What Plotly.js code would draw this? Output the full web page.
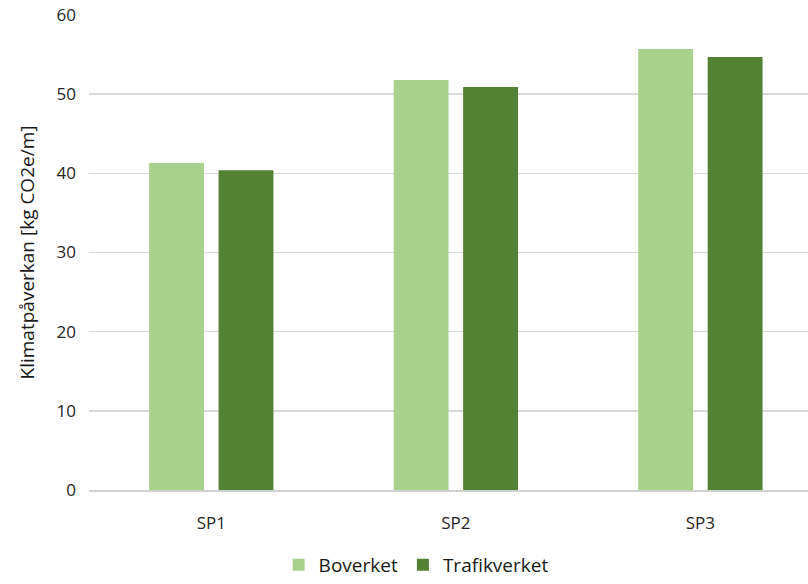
<!DOCTYPE html>
<html>
<head>
<meta charset="utf-8">
<script src="https://cdn.plot.ly/plotly-3.0.1.min.js"></script>
<style>
  html, body { margin: 0; padding: 0; background: #ffffff; }
  #chart { width: 808px; height: 584px; }
</style>
</head>
<body>
<div id="chart"></div>
<script>
// Climate impact per metre for three cross-sections, two calculation methods
const categories = ['SP1', 'SP2', 'SP3'];
const boverket = [41.3, 51.8, 55.7];
const trafikverket = [40.4, 50.9, 54.7];
const yTicks = [0, 10, 20, 30, 40, 50, 60];

const font = 'Open Sans, Liberation Sans, sans-serif';

const traces = [
  {
    type: 'bar', name: 'Boverket', x: categories, y: boverket,
    marker: { color: '#a9d18e' }, hoverinfo: 'x+y+name'
  },
  {
    type: 'bar', name: 'Trafikverket', x: categories, y: trafikverket,
    marker: { color: '#548235' }, hoverinfo: 'x+y+name'
  }
];

const layout = {
  width: 808, height: 584,
  margin: { l: 89, r: 0, t: 15, b: 94 },
  paper_bgcolor: '#ffffff', plot_bgcolor: '#ffffff',
  barmode: 'group', bargap: 0.432, bargroupgap: 0.21,
  font: { family: font, color: '#262626', size: 15 },
  xaxis: {
    type: 'category', range: [-0.5, 2.44],
    showgrid: false, zeroline: false, showline: true,
    linecolor: '#d0d0d0', linewidth: 1.5,
    ticks: '', tickfont: { size: 17, color: '#262626' },
    ticklabelstandoff: 17
  },
  yaxis: {
    range: [0, 60], tickvals: yTicks,
    showgrid: true, gridcolor: '#d9d9d9', gridwidth: 1.5,
    zeroline: false, showline: false, ticks: '',
    tickfont: { size: 17, color: '#262626' },
    ticklabelstandoff: 12,
    title: { text: 'Klimatpåverkan [kg CO2e/m]', font: { size: 19, color: '#1a1a1a' }, standoff: 16 }
  },
  legend: {
    orientation: 'h', xref: 'container', yref: 'container',
    x: 0.515, xanchor: 'center', y: 0.0, yanchor: 'bottom',
    font: { size: 19, color: '#1a1a1a' }, itemwidth: 30
  },
  showlegend: true
};

Plotly.newPlot('chart', traces, layout, { displayModeBar: false, staticPlot: true });
</script>
</body>
</html>
